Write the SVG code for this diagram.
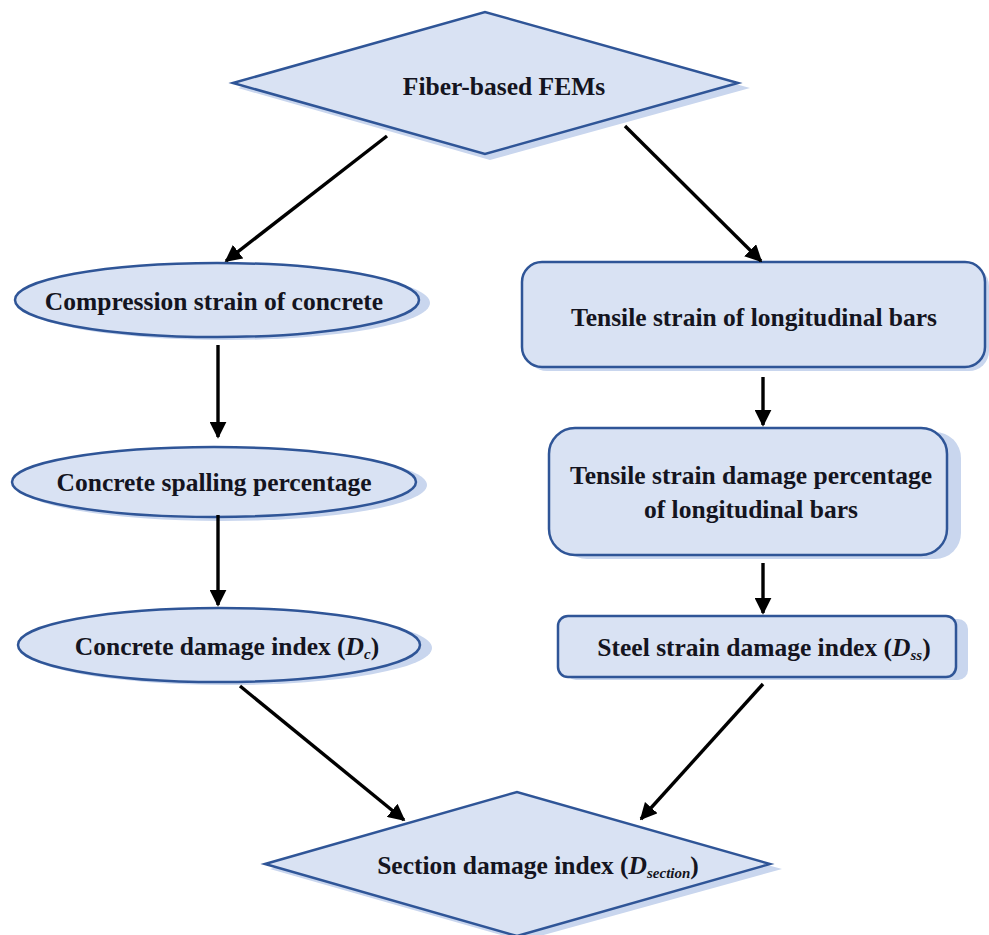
<svg xmlns="http://www.w3.org/2000/svg" width="989" height="935" viewBox="0 0 989 935">
<defs>
<marker id="ah" viewBox="0 0 10 10" refX="9" refY="5" markerWidth="5" markerHeight="5" orient="auto" markerUnits="strokeWidth">
<path d="M0,0 L10,5 L0,10 z" fill="#000"/>
</marker>
</defs>
<style>
.sh{fill:#c9d6ee;stroke:none}
.nd{fill:#d9e2f3;stroke:#2f5597;stroke-width:2.5}
.t{font-family:"Liberation Serif",serif;font-weight:bold;font-size:25.5px;fill:#141420;text-anchor:middle}
.s{font-style:italic;font-size:15px}
.c{stroke:#000;stroke-width:3.4;fill:none;marker-end:url(#ah)}
</style>
<rect width="989" height="935" fill="#fff"/>
<g id="n1">
<polygon class="sh" points="238,88 490,16 750,88 490,160"/>
<polygon class="nd" points="233,83 485,12 738,83 485,154"/>
<text class="t" x="504" y="95">Fiber-based FEMs</text>
</g>
<g id="n2">
<ellipse class="sh" cx="225" cy="303" rx="205" ry="37"/>
<ellipse class="nd" cx="217" cy="300" rx="202" ry="37"/>
<text class="t" x="214" y="310">Compression strain of concrete</text>
</g>
<g id="n3">
<ellipse class="sh" cx="222" cy="485" rx="205" ry="36"/>
<ellipse class="nd" cx="214" cy="482" rx="202" ry="35"/>
<text class="t" x="214" y="491">Concrete spalling percentage</text>
</g>
<g id="n4">
<ellipse class="sh" cx="227" cy="648" rx="205" ry="37"/>
<ellipse class="nd" cx="219" cy="645" rx="201" ry="37"/>
<text class="t" x="227" y="655">Concrete damage index (<tspan font-style="italic">D</tspan><tspan class="s" dy="4">c</tspan><tspan dy="-4">)</tspan></text>
</g>
<g id="n5">
<rect class="sh" x="527" y="266" width="462" height="105" rx="20"/>
<rect class="nd" x="522" y="262" width="463" height="105" rx="20"/>
<text class="t" x="754" y="326">Tensile strain of longitudinal bars</text>
</g>
<g id="n6">
<rect class="sh" x="561" y="432" width="400" height="127" rx="26"/>
<rect class="nd" x="549" y="428" width="398" height="127" rx="26"/>
<text class="t" x="751" y="484">Tensile strain damage percentage</text>
<text class="t" x="751" y="518">of longitudinal bars</text>
</g>
<g id="n7">
<rect class="sh" x="566" y="619" width="402" height="61" rx="10"/>
<rect class="nd" x="558" y="616" width="398" height="61" rx="10"/>
<text class="t" x="764" y="656">Steel strain damage index (<tspan font-style="italic">D</tspan><tspan class="s" dy="4">ss</tspan><tspan dy="-4">)</tspan></text>
</g>
<g id="n8">
<polygon class="sh" points="270,869 522,797 782,869 522,941"/>
<polygon class="nd" points="265,864 517,792 770,864 517,936"/>
<text class="t" x="538" y="874">Section damage index (<tspan font-style="italic">D</tspan><tspan class="s" dy="4">section</tspan><tspan dy="-4">)</tspan></text>
</g>
<g id="connectors">
<line class="c" x1="387" y1="136" x2="226" y2="261"/>
<line class="c" x1="625" y1="126" x2="761" y2="261"/>
<line class="c" x1="218" y1="345" x2="218" y2="437"/>
<line class="c" x1="218" y1="515" x2="218" y2="605"/>
<line class="c" x1="763" y1="377" x2="763" y2="425"/>
<line class="c" x1="763" y1="563" x2="763" y2="613"/>
<line class="c" x1="240" y1="686" x2="404" y2="820"/>
<line class="c" x1="763" y1="684" x2="641" y2="819"/>
</g>
</svg>
